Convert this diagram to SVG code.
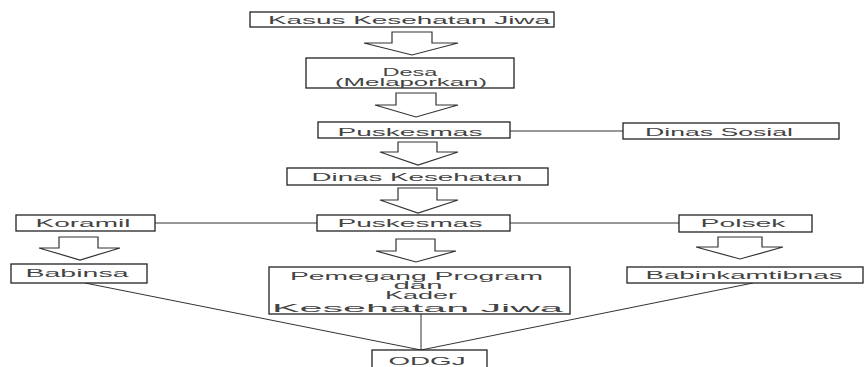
<svg xmlns="http://www.w3.org/2000/svg" width="865" height="367" viewBox="0 0 865 367">
<style>
.box{fill:#fff;stroke:#222;stroke-width:1.3}
.t{font-family:"Liberation Sans",Arial,sans-serif;font-size:10px;fill:#444;text-anchor:middle}
.ln{stroke:#333;stroke-width:1;fill:none}
.ar{fill:#fff;stroke:#333;stroke-width:1.2;stroke-linejoin:miter}
</style>
<rect width="865" height="367" fill="#fff"/>
<g id="connectors">
<line class="ln" x1="510" y1="131" x2="623" y2="131"/>
<line class="ln" x1="155" y1="223" x2="317" y2="223"/>
<line class="ln" x1="510" y1="223" x2="679" y2="223"/>
<line class="ln" x1="421" y1="314" x2="421" y2="350" stroke-width="1.6"/>
<line class="ln" x1="85" y1="283" x2="421" y2="350"/>
<line class="ln" x1="753" y1="283" x2="421" y2="350"/>
<polygon class="ar" points="392,32 432,32 432,43 458,43 412,55 364,43 392,43"/>
<polygon class="ar" points="396,93 436,93 436,105 458,105 416,117 375,105 396,105"/>
<polygon class="ar" points="398,142 437,142 437,152 458,152 418,165 380,152 398,152"/>
<polygon class="ar" points="398,188 437,188 437,200 458,200 418,213 380,200 398,200"/>
<polygon class="ar" points="396,239 435,239 435,251 456,251 416,262 376,251 396,251"/>
<polygon class="ar" points="59,237 98,237 98,248 120,248 80,260 39,248 59,248"/>
<polygon class="ar" points="718,237 762,237 762,247 783,247 740,259 696,247 718,247"/>
</g>
<g id="kasus"><rect class="box" x="250" y="12" width="304" height="15"/><text class="t" x="409" y="23.5" textLength="282" lengthAdjust="spacingAndGlyphs">Kasus Kesehatan Jiwa</text></g>
<g id="desa"><rect class="box" x="306" y="58" width="208" height="30"/><text class="t" x="410" y="75.5" textLength="55" lengthAdjust="spacingAndGlyphs">Desa</text><text class="t" x="411" y="86" textLength="152" lengthAdjust="spacingAndGlyphs">(Melaporkan)</text></g>
<g id="puskesmas1"><rect class="box" x="318" y="122" width="192" height="16"/><text class="t" x="410" y="135.5" textLength="145" lengthAdjust="spacingAndGlyphs">Puskesmas</text></g>
<g id="dinas-sosial"><rect class="box" x="623" y="123" width="216" height="16"/><text class="t" x="719" y="135.5" textLength="148" lengthAdjust="spacingAndGlyphs">Dinas Sosial</text></g>
<g id="dinas-kesehatan"><rect class="box" x="287" y="168" width="261" height="17"/><text class="t" x="417" y="180.5" textLength="211" lengthAdjust="spacingAndGlyphs">Dinas Kesehatan</text></g>
<g id="puskesmas2"><rect class="box" x="317" y="215" width="193" height="16"/><text class="t" x="410" y="226.5" textLength="145" lengthAdjust="spacingAndGlyphs">Puskesmas</text></g>
<g id="koramil"><rect class="box" x="16" y="215" width="139" height="16"/><text class="t" x="83" y="226.5" textLength="95" lengthAdjust="spacingAndGlyphs">Koramil</text></g>
<g id="polsek"><rect class="box" x="679" y="215" width="133" height="17"/><text class="t" x="743" y="226.5" textLength="85" lengthAdjust="spacingAndGlyphs">Polsek</text></g>
<g id="babinsa"><rect class="box" x="11" y="264" width="136" height="19"/><text class="t" x="77" y="277" textLength="103" lengthAdjust="spacingAndGlyphs">Babinsa</text></g>
<g id="pemegang"><rect class="box" x="269" y="267" width="301" height="47"/>
<text class="t" x="416.5" y="280" textLength="253" lengthAdjust="spacingAndGlyphs">Pemegang Program</text>
<text class="t" x="418" y="289" textLength="49" lengthAdjust="spacingAndGlyphs">dan</text>
<text class="t" x="421" y="299" textLength="72" lengthAdjust="spacingAndGlyphs">Kader</text>
<text class="t" x="417.5" y="311.5" textLength="291" lengthAdjust="spacingAndGlyphs" style="font-size:11px">Kesehatan Jiwa</text></g>
<g id="babinkamtibnas"><rect class="box" x="627" y="267" width="236" height="16"/><text class="t" x="744" y="279" textLength="197" lengthAdjust="spacingAndGlyphs">Babinkamtibnas</text></g>
<g id="odgj"><rect class="box" x="372" y="350" width="115" height="22"/><text class="t" x="427" y="364.5" textLength="77" lengthAdjust="spacingAndGlyphs">ODGJ</text></g>
</svg>
